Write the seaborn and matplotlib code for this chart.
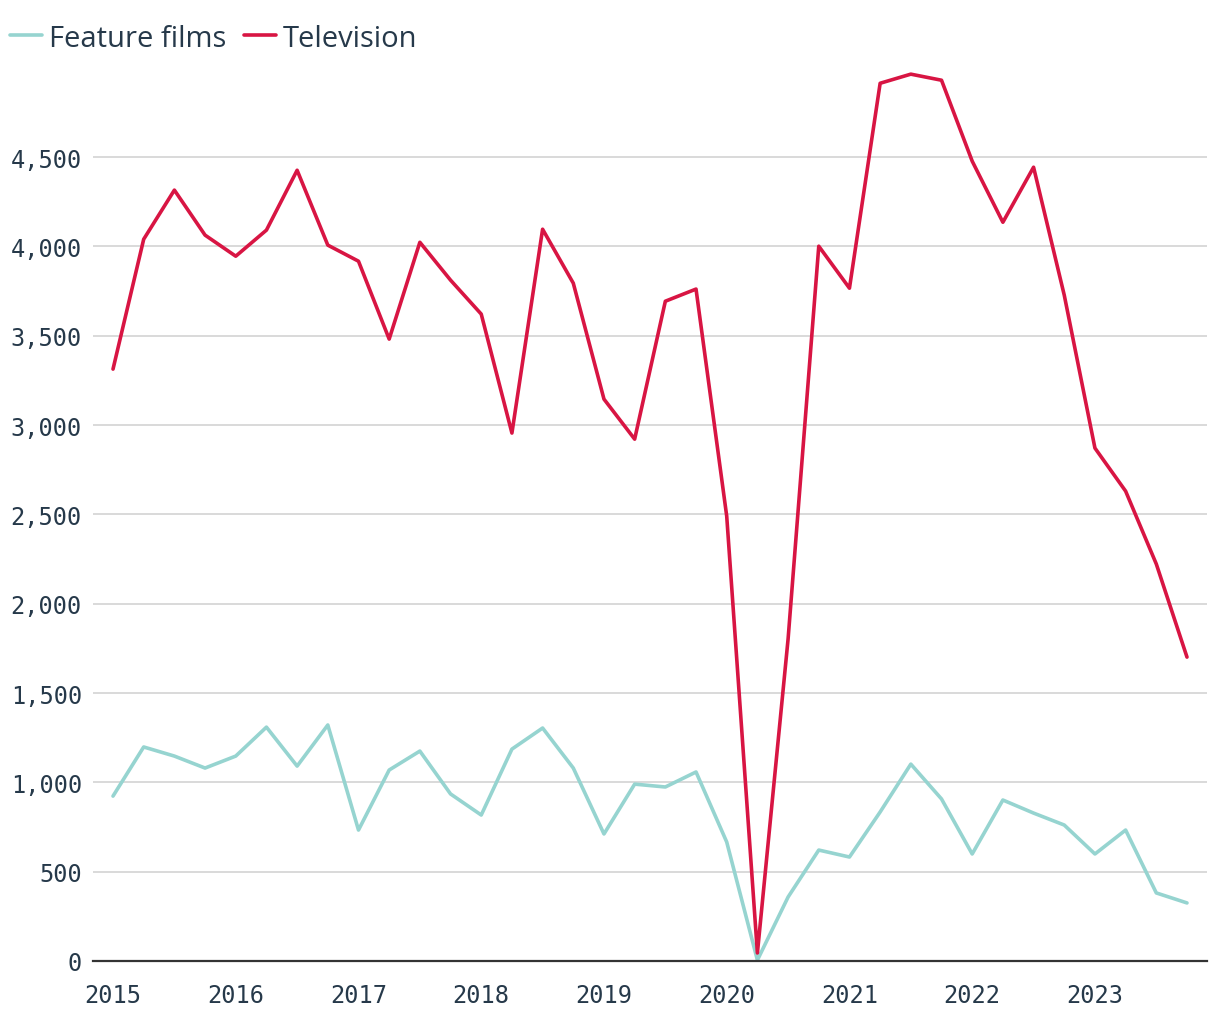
import matplotlib
matplotlib.use("Agg")
import matplotlib.pyplot as plt
import seaborn as sns
import numpy as np
import pandas as pd

# quarterly values, 2015 Q1 .. 2023 Q4
quarters = [f"{y}Q{q}" for y in range(2015, 2024) for q in range(1, 5)]

feature_films = [923, 1198, 1147, 1080, 1147, 1309, 1091, 1321,
                 733, 1069, 1175, 935, 817, 1186, 1304, 1080,
                 711, 990, 974, 1058, 666, 5, 358, 621,
                 582, 834, 1102, 907, 599, 901, 828, 761,
                 599, 733, 381, 325]

television = [3313, 4040, 4315, 4063, 3945, 4091, 4426, 4007,
              3917, 3481, 4023, 3811, 3621, 2955, 4096, 3794,
              3145, 2921, 3693, 3761, 2490, 45, 1802, 4001,
              3766, 4913, 4964, 4930, 4477, 4135, 4443, 3727,
              2871, 2630, 2222, 1701]

year_ticks = list(range(2015, 2024))
series_names = ["Feature films", "Television"]
colors = {"Feature films": "#96d4d0", "Television": "#d81543"}

qpos = [int(s[:4]) + (int(s[-1]) - 1) / 4 for s in quarters]
df = pd.concat([
    pd.DataFrame({"t": qpos, "value": feature_films, "series": "Feature films"}),
    pd.DataFrame({"t": qpos, "value": television, "series": "Television"}),
])

sns.set_style("white")
text_col = "#26394a"

fig = plt.figure(figsize=(12.2, 10.2), dpi=100)
ax = fig.add_axes([93 / 1220, 58 / 1020, (1207 - 93) / 1220, (962 - 58) / 1020])

sns.lineplot(data=df, x="t", y="value", hue="series", hue_order=series_names,
             palette=colors, linewidth=2.6, ax=ax)

ax.set_xlim(2015 - 0.163, 2023.75 + 0.163)
ax.set_ylim(0, 5060)
ax.set_yticks(range(0, 5000, 500))
ax.set_yticklabels([f"{v:,}" for v in range(0, 5000, 500)])
ax.set_xticks(year_ticks)
ax.set_xticklabels([str(y) for y in year_ticks])
ax.set_xlabel("")
ax.set_ylabel("")

ax.grid(axis="y", color="#cfcfcf", linewidth=1.1)
ax.set_axisbelow(True)
for side in ["top", "right", "left"]:
    ax.spines[side].set_visible(False)
ax.spines["bottom"].set_color("#333333")
ax.spines["bottom"].set_linewidth(1.6)

ax.tick_params(axis="both", length=0, labelsize=17, labelcolor=text_col)
ax.tick_params(axis="y", pad=8)
ax.tick_params(axis="x", pad=16)
for lbl in ax.get_xticklabels() + ax.get_yticklabels():
    lbl.set_family("DejaVu Sans Mono")

leg = ax.legend(loc="upper left", bbox_to_anchor=(-95 / 1114, 1 + 45 / 904), ncol=2,
                frameon=False, fontsize=21, handlelength=1.1, handletextpad=0.25,
                columnspacing=0.6, borderaxespad=0)
for t in leg.get_texts():
    t.set_color(text_col)
    t.set_family("Open Sans")

fig.savefig("out.png", dpi=100)
